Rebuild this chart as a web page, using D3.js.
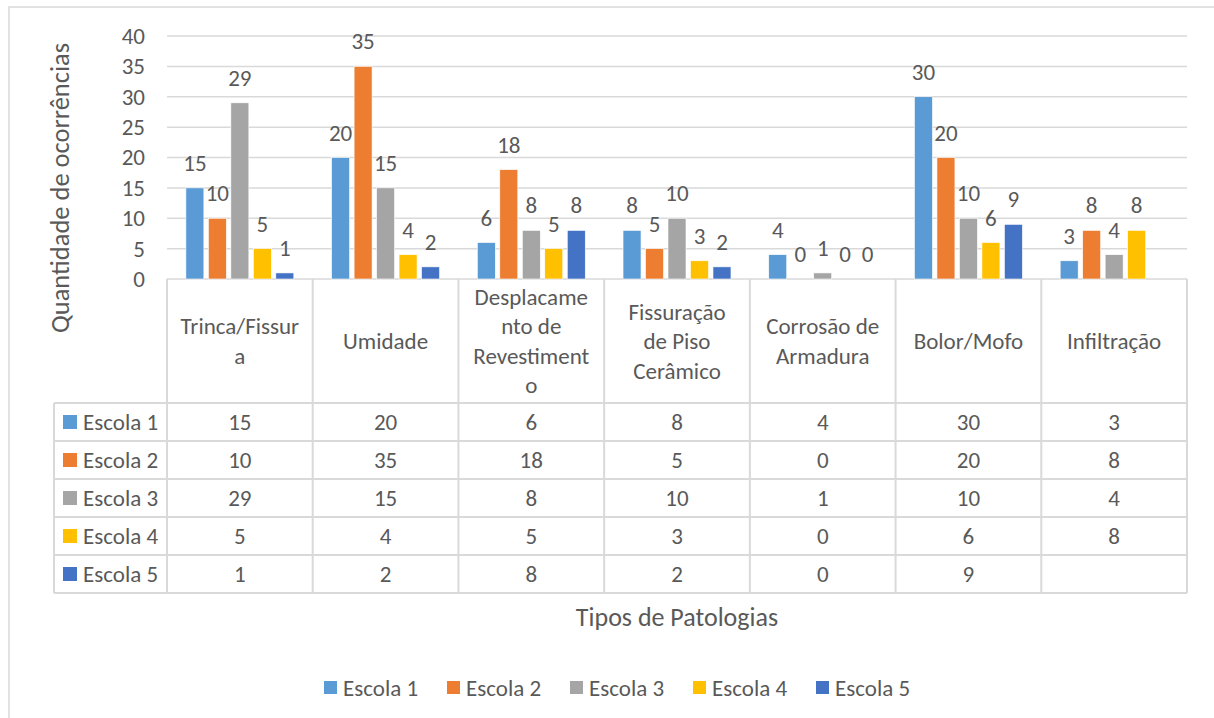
<!DOCTYPE html>
<html>
<head>
<meta charset="utf-8">
<script src="https://cdn.jsdelivr.net/npm/d3@7"></script>
<style>
  html, body { margin: 0; padding: 0; background: #fff; }
  text { font-family: Carlito, Calibri, Lato, sans-serif; fill: #595959; }
</style>
</head>
<body>
<svg id="chart" width="1214" height="718"></svg>
<script>
// ---- data ----
const categories = ["Trinca/Fissura", "Umidade", "Desplacamento de Revestimento", "Fissuração de Piso Cerâmico", "Corrosão de Armadura", "Bolor/Mofo", "Infiltração"];
const categoryLines = [["Trinca/Fissur", "a"], ["Umidade"], ["Desplacame", "nto de", "Revestiment", "o"], ["Fissuração", "de Piso", "Cerâmico"], ["Corrosão de", "Armadura"], ["Bolor/Mofo"], ["Infiltração"]];
const seriesNames = ["Escola 1", "Escola 2", "Escola 3", "Escola 4", "Escola 5"];
const escola1 = [15, 20, 6, 8, 4, 30, 3];
const escola2 = [10, 35, 18, 5, 0, 20, 8];
const escola3 = [29, 15, 8, 10, 1, 10, 4];
const escola4 = [5, 4, 5, 3, 0, 6, 8];
const escola5 = [1, 2, 8, 2, 0, 9, null];
const seriesColors = ["#5B9BD5", "#ED7D31", "#A5A5A5", "#FFC000", "#4472C4"];
const yTicks = [0, 5, 10, 15, 20, 25, 30, 35, 40];
const yTitle = "Quantidade de ocorrências";
const xTitle = "Tipos de Patologias";

const seriesValues = [escola1, escola2, escola3, escola4, escola5];

// ---- layout ----
const svg = d3.select("#chart");
const plotLeft = 167, plotRight = 1187, plotTop = 36, plotBottom = 279;
const tableLeft = 54;
const headerBottom = 403;
const rowH = 38;
const gridColor = "#D9D9D9";
const fs = 23;

svg.append("rect").attr("x", 9).attr("y", 7).attr("width", 1220).attr("height", 730)
  .attr("fill", "#fff").attr("stroke", gridColor).attr("stroke-width", 1.5);

const x = d3.scaleBand().domain(categories).range([plotLeft, plotRight]).padding(0);
const xs = d3.scaleBand().domain(seriesNames).range([0, x.bandwidth()]).paddingInner(0.2).paddingOuter(0.84);
const y = d3.scaleLinear().domain([0, 40]).range([plotBottom, plotTop]);

// gridlines
svg.append("g").selectAll("line").data(yTicks).join("line")
  .attr("x1", plotLeft).attr("x2", plotRight)
  .attr("y1", d => y(d)).attr("y2", d => y(d))
  .attr("stroke", gridColor).attr("stroke-width", 1.5);

// y axis labels
const yAxis = svg.append("g").attr("transform", `translate(${plotLeft},0)`)
  .call(d3.axisLeft(y).tickValues(yTicks).tickSize(0).tickPadding(22));
yAxis.select(".domain").remove();
yAxis.selectAll("text").attr("font-size", fs).attr("fill", "#595959")
  .style("font-family", "Carlito, Calibri, Lato, sans-serif");

// bars
const flat = [];
seriesValues.forEach((vals, si) => {
  vals.forEach((v, ci) => {
    if (v !== null && v !== undefined) flat.push({ s: seriesNames[si], si, c: categories[ci], v });
  });
});

svg.append("g").selectAll("rect").data(flat.filter(d => d.v > 0)).join("rect")
  .attr("x", d => x(d.c) + xs(d.s))
  .attr("y", d => y(d.v))
  .attr("width", xs.bandwidth())
  .attr("height", d => y(0) - y(d.v))
  .attr("fill", d => seriesColors[d.si])
  .attr("stroke", "#fff").attr("stroke-width", 0.6);

// data labels
svg.append("g").selectAll("text").data(flat).join("text")
  .attr("x", d => x(d.c) + xs(d.s) + xs.bandwidth() / 2)
  .attr("y", d => y(d.v) - 17)
  .attr("text-anchor", "middle")
  .attr("font-size", fs)
  .attr("fill", "#404040")
  .text(d => d.v);

// ---- data table ----
const tbl = svg.append("g");
const rowsTop = headerBottom;
const tableBottom = rowsTop + rowH * seriesNames.length;
// horizontal lines
d3.range(seriesNames.length + 1).forEach(i => {
  tbl.append("line").attr("x1", tableLeft).attr("x2", plotRight)
    .attr("y1", rowsTop + i * rowH).attr("y2", rowsTop + i * rowH)
    .attr("stroke", gridColor).attr("stroke-width", 2);
});
// vertical lines
const vx = categories.map(c => x(c)).concat([plotRight]);
vx.forEach(xx => {
  tbl.append("line").attr("x1", xx).attr("x2", xx)
    .attr("y1", plotBottom).attr("y2", tableBottom)
    .attr("stroke", gridColor).attr("stroke-width", 2);
});
tbl.append("line").attr("x1", tableLeft).attr("x2", tableLeft)
  .attr("y1", rowsTop).attr("y2", tableBottom)
  .attr("stroke", gridColor).attr("stroke-width", 2);

// category header labels
const lineH = 29.5, headerCenter = 341;
categories.forEach((c, ci) => {
  const lines = categoryLines[ci];
  const t = tbl.append("text")
    .attr("text-anchor", "middle")
    .attr("font-size", fs);
  lines.forEach((ln, li) => {
    t.append("tspan")
      .attr("x", x(c) + x.bandwidth() / 2)
      .attr("y", headerCenter + (li - (lines.length - 1) / 2) * lineH)
      .attr("dy", "0.35em")
      .text(ln);
  });
});

// row legend keys and values
seriesNames.forEach((s, si) => {
  const cy = rowsTop + si * rowH + rowH / 2;
  tbl.append("rect").attr("x", 63).attr("y", cy - 7).attr("width", 14).attr("height", 14)
    .attr("fill", seriesColors[si]);
  tbl.append("text").attr("x", 83).attr("y", cy).attr("dy", "0.35em")
    .attr("font-size", fs).text(s);
  seriesValues[si].forEach((v, ci) => {
    if (v === null || v === undefined) return;
    tbl.append("text")
      .attr("x", x(categories[ci]) + x.bandwidth() / 2)
      .attr("y", cy).attr("dy", "0.35em")
      .attr("text-anchor", "middle")
      .attr("font-size", fs).text(v);
  });
});

// axis titles
svg.append("text")
  .attr("transform", "translate(60,188) rotate(-90)")
  .attr("text-anchor", "middle").attr("dy", "0.35em")
  .attr("font-size", 26.5).text(yTitle);

svg.append("text")
  .attr("x", 677).attr("y", 617).attr("dy", "0.35em")
  .attr("text-anchor", "middle")
  .attr("font-size", 26).text(xTitle);

// bottom legend
const legendX = 324, legendStep = 123, legendY = 688;
const lg = svg.append("g");
seriesNames.forEach((s, si) => {
  const gx = legendX + si * legendStep;
  lg.append("rect").attr("x", gx).attr("y", legendY - 7).attr("width", 13).attr("height", 13)
    .attr("fill", seriesColors[si]);
  lg.append("text").attr("x", gx + 19).attr("y", legendY).attr("dy", "0.35em")
    .attr("font-size", fs).text(s);
});
</script>
</body>
</html>
